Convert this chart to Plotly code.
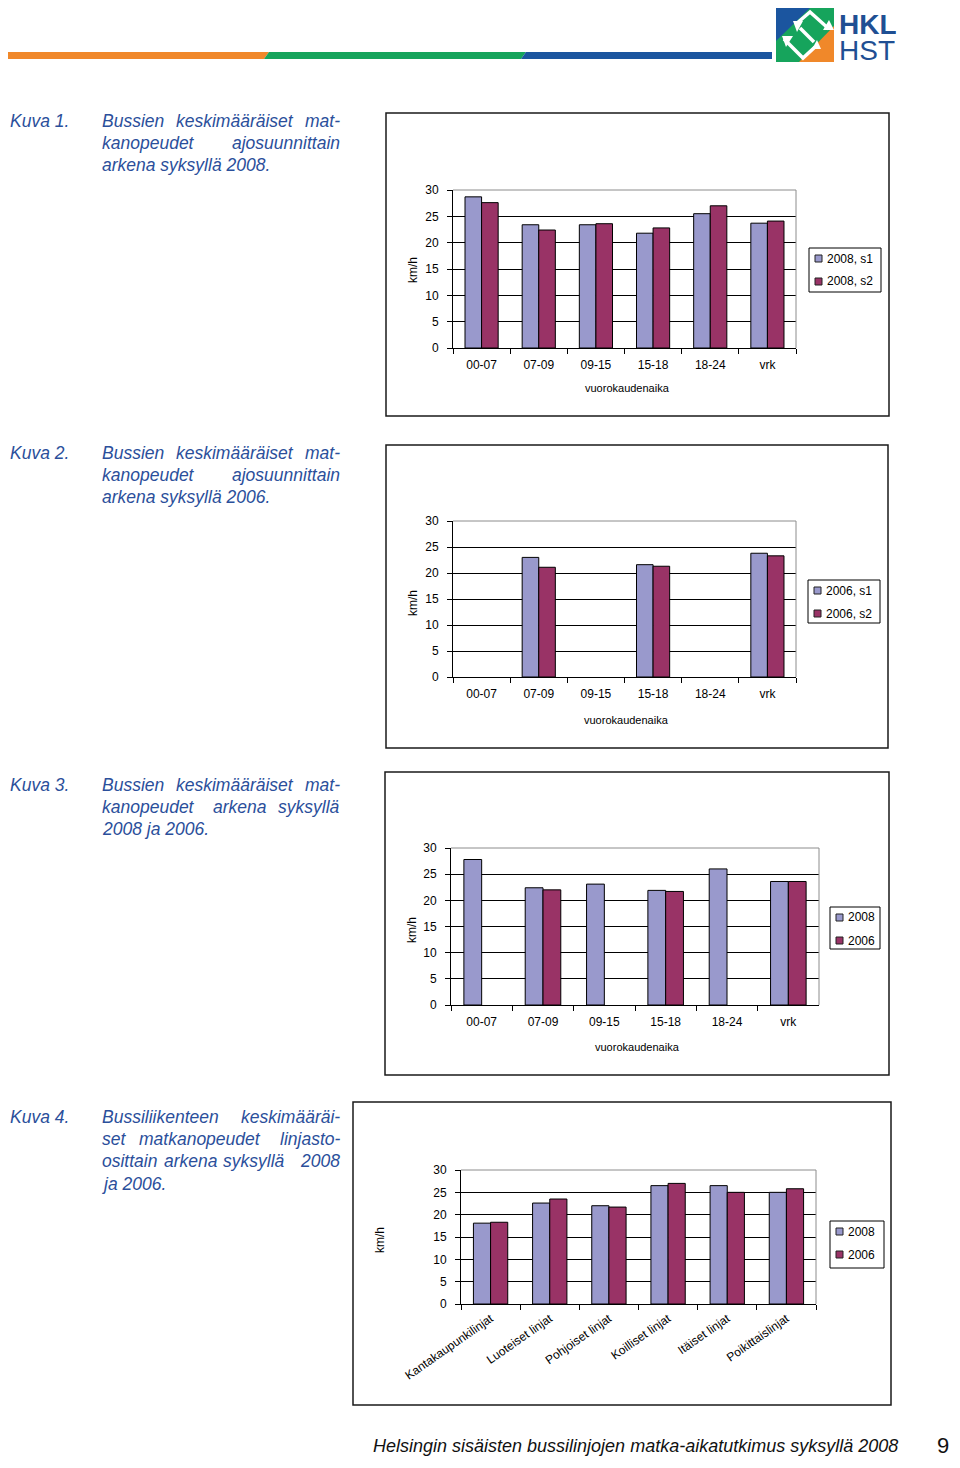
import plotly.graph_objects as go

OFF = 8                 # default page body margin that offsets the figure
W, H = 960 - 2 * OFF, 1468 - 2 * OFF   # keep the page free of scrollbars


def X(px):
    return (px - OFF) / W


def Y(py):
    return 1 - (py - OFF) / H


# ---------------- data ----------------
time_categories = ["00-07", "07-09", "09-15", "15-18", "18-24", "vrk"]
line_categories = ["Kantakaupunkilinjat", "Luoteiset linjat", "Pohjoiset linjat",
                   "Koilliset linjat", "Itäiset linjat", "Poikittaislinjat"]

c1_names = ["2008, s1", "2008, s2"]
c1_s1 = [28.7, 23.4, 23.4, 21.8, 25.5, 23.7]
c1_s2 = [27.6, 22.4, 23.6, 22.8, 27.0, 24.1]

c2_names = ["2006, s1", "2006, s2"]
c2_s1 = [None, 23.0, None, 21.6, None, 23.8]
c2_s2 = [None, 21.1, None, 21.3, None, 23.3]

c3_names = ["2008", "2006"]
c3_2008 = [27.8, 22.4, 23.1, 21.9, 26.0, 23.6]
c3_2006 = [None, 22.0, None, 21.7, None, 23.6]

c4_names = ["2008", "2006"]
c4_2008 = [18.1, 22.6, 22.0, 26.5, 26.5, 25.0]
c4_2006 = [18.3, 23.5, 21.7, 27.0, 25.0, 25.8]

y_ticks = [0, 5, 10, 15, 20, 25, 30]
y_title = "km/h"
x_title = "vuorokaudenaika"

COL1 = "#9999cc"
COL2 = "#993366"
TEXT_BLUE = "#2b4f9b"
FONT = "Liberation Sans, Arial, sans-serif"

charts = [
    dict(cats=time_categories, s=[c1_s1, c1_s2], names=c1_names,
         area=(453, 190, 796, 348), box=(386, 113, 889, 416),
         leg=(809, 248, 881, 292), ytitle=(413, 270), xtitle=(627, 388), angle=0),
    dict(cats=time_categories, s=[c2_s1, c2_s2], names=c2_names,
         area=(453, 521, 796, 677), box=(386, 445, 888, 748),
         leg=(808, 580, 880, 623), ytitle=(413, 603), xtitle=(626, 720), angle=0),
    dict(cats=time_categories, s=[c3_2008, c3_2006], names=c3_names,
         area=(451, 848, 819, 1005), box=(385, 772, 889, 1075),
         leg=(830, 907, 880, 949), ytitle=(412, 930), xtitle=(637, 1047), angle=0),
    dict(cats=line_categories, s=[c4_2008, c4_2006], names=c4_names,
         area=(461, 1170, 816, 1304), box=(353, 1102, 891, 1405),
         leg=(830, 1221, 884, 1268), ytitle=(380, 1240), xtitle=None, angle=-35),
]

fig = go.Figure()
shapes = []
annotations = []
layout_axes = {}

for i, ch in enumerate(charts):
    n = "" if i == 0 else str(i + 1)
    x0, y0, x1, y1 = ch["area"]
    for k, (vals, col, name) in enumerate(zip(ch["s"], [COL1, COL2], ch["names"])):
        fig.add_trace(go.Bar(
            x=ch["cats"], y=vals, name=name, showlegend=False,
            marker=dict(color=col, line=dict(color="#000000", width=1)),
            xaxis="x" + n, yaxis="y" + n,
        ))
    layout_axes["xaxis" + n] = dict(
        domain=[X(x0), X(x1)], anchor="y" + n, type="category",
        showline=True, linecolor="#000000", linewidth=1,
        ticks="outside", tickson="boundaries", ticklen=5, tickcolor="#000000",
        tickangle=ch["angle"], ticklabelstandoff=6 if ch["angle"] == 0 else 2,
        tickfont=dict(family=FONT, size=12, color="#000000"),
        showgrid=False, automargin=False, fixedrange=True,
    )
    layout_axes["yaxis" + n] = dict(
        domain=[Y(y1), Y(y0)], anchor="x" + n, range=[0, 30],
        tickvals=y_ticks, showline=True, linecolor="#000000", linewidth=1,
        ticks="outside", ticklen=5, tickcolor="#000000", ticklabelstandoff=6,
        showgrid=True, gridcolor="#000000", gridwidth=1, zeroline=False,
        tickfont=dict(family=FONT, size=12, color="#000000"),
        automargin=False, fixedrange=True,
    )
    # plot-area border (grey top and right)
    shapes.append(dict(type="line", xref="paper", yref="paper", x0=X(x0), x1=X(x1),
                       y0=Y(y0), y1=Y(y0), line=dict(color="#8c8c8c", width=1), layer="above"))
    shapes.append(dict(type="line", xref="paper", yref="paper", x0=X(x1), x1=X(x1),
                       y0=Y(y0), y1=Y(y1), line=dict(color="#8c8c8c", width=1), layer="above"))
    # outer chart frame
    bx0, by0, bx1, by1 = ch["box"]
    shapes.append(dict(type="rect", xref="paper", yref="paper", x0=X(bx0), x1=X(bx1),
                       y0=Y(by1), y1=Y(by0), line=dict(color="#1a1a1a", width=1.5)))
    # axis titles
    tx, ty = ch["ytitle"]
    annotations.append(dict(text=y_title, x=X(tx), y=Y(ty), xref="paper", yref="paper",
                            showarrow=False, textangle=-90, xanchor="center", yanchor="middle",
                            font=dict(family=FONT, size=12, color="#000000")))
    if ch["xtitle"]:
        tx, ty = ch["xtitle"]
        annotations.append(dict(text=x_title, x=X(tx), y=Y(ty), xref="paper", yref="paper",
                                showarrow=False, xanchor="center", yanchor="middle",
                                font=dict(family=FONT, size=11, color="#000000")))
    # legend
    lx0, ly0, lx1, ly1 = ch["leg"]
    shapes.append(dict(type="rect", xref="paper", yref="paper", x0=X(lx0), x1=X(lx1),
                       y0=Y(ly1), y1=Y(ly0), line=dict(color="#000000", width=1),
                       fillcolor="#ffffff"))
    for k, (col, name) in enumerate(zip([COL1, COL2], ch["names"])):
        cy = ly0 + 10.5 + k * 23
        shapes.append(dict(type="rect", xref="paper", yref="paper",
                           x0=X(lx0 + 6), x1=X(lx0 + 13), y0=Y(cy + 3.5), y1=Y(cy - 3.5),
                           line=dict(color="#222222", width=1), fillcolor=col))
        annotations.append(dict(text=name, x=X(lx0 + 16), y=Y(cy), xref="paper", yref="paper",
                                showarrow=False, xanchor="left", yanchor="middle",
                                font=dict(family=FONT, size=12, color="#000000")))

# ---------------- caption texts ----------------
captions = [
    ("Kuva 1.", 121, [
        [("Bussien", 100, "left"), ("keskimääräiset", 174, "left"), ("mat-", 342, "right")],
        [("kanopeudet", 100, "left"), ("ajosuunnittain", 342, "right")],
        [("arkena syksyllä 2008.", 100, "left")],
    ]),
    ("Kuva 2.", 453, [
        [("Bussien", 100, "left"), ("keskimääräiset", 174, "left"), ("mat-", 342, "right")],
        [("kanopeudet", 100, "left"), ("ajosuunnittain", 342, "right")],
        [("arkena syksyllä 2006.", 100, "left")],
    ]),
    ("Kuva 3.", 785, [
        [("Bussien", 100, "left"), ("keskimääräiset", 174, "left"), ("mat-", 342, "right")],
        [("kanopeudet", 100, "left"), ("arkena", 211, "left"), ("syksyllä", 342, "right")],
        [("2008 ja 2006.", 100, "left")],
    ]),
    ("Kuva 4.", 1117, [
        [("Bussiliikenteen", 100, "left"), ("keskimääräi-", 342, "right")],
        [("set", 100, "left"), ("matkanopeudet", 137, "left"), ("linjasto-", 342, "right")],
        [("osittain", 100, "left"), ("arkena", 162, "left"), ("syksyllä", 221, "left"), ("2008", 342, "right")],
        [("ja 2006.", 100, "left")],
    ]),
]
for label, ytop, lines in captions:
    annotations.append(dict(text="<i>" + label + "</i>", x=X(8), y=Y(ytop), xref="paper", yref="paper",
                            showarrow=False, xanchor="left", yanchor="middle",
                            font=dict(family=FONT, size=17.5, color=TEXT_BLUE)))
    for li, words in enumerate(lines):
        for word, wx, anc in words:
            annotations.append(dict(text="<i>" + word + "</i>", x=X(wx), y=Y(ytop + li * 22.2),
                                    xref="paper", yref="paper", showarrow=False,
                                    xanchor=anc, yanchor="middle",
                                    font=dict(family=FONT, size=17.5, color=TEXT_BLUE)))

# footer
annotations.append(dict(text="<i>Helsingin sisäisten bussilinjojen matka-aikatutkimus syksyllä 2008</i>",
                        x=X(900), y=Y(1446), xref="paper", yref="paper", showarrow=False,
                        xanchor="right", yanchor="middle",
                        font=dict(family=FONT, size=18, color="#111111")))
annotations.append(dict(text="9", x=X(951), y=Y(1445), xref="paper", yref="paper", showarrow=False,
                        xanchor="right", yanchor="middle",
                        font=dict(family=FONT, size=22, color="#111111")))

# ---------------- header stripe ----------------
ORANGE, GREEN, BLUE = "#f0882a", "#16a45c", "#1b559f"


def P(pts):
    return "M" + " L".join(f"{X(a)},{Y(b)}" for a, b in pts) + " Z"


def PL(pts):
    return "M" + " L".join(f"{X(a)},{Y(b)}" for a, b in pts)


shapes.append(dict(type="path", xref="paper", yref="paper", path=P([(8, 52), (269, 52), (264, 59), (8, 59)]),
                   fillcolor=ORANGE, line=dict(width=0)))
shapes.append(dict(type="path", xref="paper", yref="paper", path=P([(269, 52), (526, 52), (521, 59), (264, 59)]),
                   fillcolor=GREEN, line=dict(width=0)))
shapes.append(dict(type="path", xref="paper", yref="paper", path=P([(526, 52), (772, 52), (772, 59), (521, 59)]),
                   fillcolor=BLUE, line=dict(width=0)))

# logo
shapes.append(dict(type="rect", xref="paper", yref="paper", x0=X(776), x1=X(834), y0=Y(62), y1=Y(8),
                   fillcolor=GREEN, line=dict(width=0)))
shapes.append(dict(type="path", xref="paper", yref="paper", path=P([(776, 8), (810, 8), (776, 41)]),
                   fillcolor=BLUE, line=dict(width=0)))
shapes.append(dict(type="path", xref="paper", yref="paper", path=P([(834, 26), (834, 62), (799, 62)]),
                   fillcolor=ORANGE, line=dict(width=0)))
# white arrow figure
shapes.append(dict(type="path", xref="paper", yref="paper",
                   path=PL([(796, 24), (810, 12), (829, 29)]),
                   line=dict(color="#ffffff", width=3.5)))
shapes.append(dict(type="path", xref="paper", yref="paper",
                   path=PL([(815, 47), (803, 58), (784, 39)]),
                   line=dict(color="#ffffff", width=3.5)))
shapes.append(dict(type="path", xref="paper", yref="paper",
                   path=PL([(800, 28), (814, 42)]),
                   line=dict(color="#ffffff", width=3.5)))
for pts in [[(823, 30), (834, 30), (829, 20)], [(782, 36), (793, 36), (786, 47)],
            [(793, 21), (803, 21), (797, 32)], [(812, 49), (821, 49), (817, 40)]]:
    shapes.append(dict(type="path", xref="paper", yref="paper", path=P(pts),
                       fillcolor="#ffffff", line=dict(width=0)))
LOGO_FONT = "Liberation Sans Narrow, Arial Narrow, Liberation Sans, Arial, sans-serif"
annotations.append(dict(text="<b>HKL</b>", x=X(837), y=Y(24), xref="paper", yref="paper", showarrow=False,
                        xanchor="left", yanchor="middle", height=24, valign="middle",
                        font=dict(family=LOGO_FONT, size=28, color="#1f4f93")))
annotations.append(dict(text="HST", x=X(837), y=Y(50), xref="paper", yref="paper", showarrow=False,
                        xanchor="left", yanchor="middle", height=24, valign="middle",
                        font=dict(family=LOGO_FONT, size=28, color="#1f4f93")))

fig.update_layout(
    width=W, height=H, autosize=False,
    margin=dict(l=0, r=0, t=0, b=0),
    paper_bgcolor="#ffffff", plot_bgcolor="#ffffff",
    barmode="group", bargap=0.42, bargroupgap=0,
    showlegend=False,
    shapes=shapes, annotations=annotations,
    **layout_axes,
)

fig.write_html("out.html")
